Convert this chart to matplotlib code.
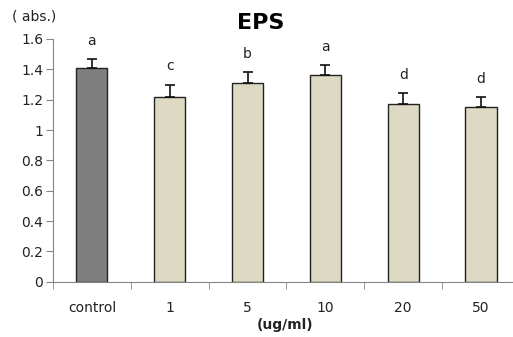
import numpy as np
from matplotlib import pyplot as plt

# EPS absorbance per treatment
doses = ['control', '1', '5', '10', '20', '50']
eps_mean = [1.41, 1.22, 1.31, 1.36, 1.17, 1.15]
eps_err = [0.055, 0.08, 0.07, 0.07, 0.075, 0.07]
groups = ['a', 'c', 'b', 'a', 'd', 'd']
bar_colors = ['#7f7f7f', '#ddd9c3', '#ddd9c3', '#ddd9c3', '#ddd9c3', '#ddd9c3']

yticks = [0, 0.2, 0.4, 0.6, 0.8, 1.0, 1.2, 1.4, 1.6]
ytick_labels = ['0', '0.2', '0.4', '0.6', '0.8', '1', '1.2', '1.4', '1.6']

fig = plt.figure(figsize=(5.13, 3.37), dpi=100)
ax = fig.add_axes([0.1033, 0.164, 0.9103, 0.7203])

x = np.arange(len(doses))
ax.bar(x, eps_mean, width=0.4, color=bar_colors, edgecolor='#222222', linewidth=1.0, zorder=2)
ax.errorbar(x, eps_mean, yerr=[np.zeros(len(x)), eps_err], fmt='none',
            ecolor='#111111', elinewidth=1.2, capsize=3.5, capthick=1.2, zorder=3)

# significance letters above the error bars
for xi, m, e, g in zip(x, eps_mean, eps_err, groups):
    ax.annotate(g, (xi, m + e), xytext=(0, 8), textcoords='offset points',
                ha='center', va='bottom', fontsize=10, color='#222222')

ax.set_xlim(-0.5, 5.5)
ax.set_ylim(0, 1.6)
ax.set_yticks(yticks)
ax.set_yticklabels(ytick_labels)
ax.set_xticks(x)
ax.set_xticklabels(doses)
ax.set_xticks(np.arange(-0.5, 6, 1.0), minor=True)

for side in ['top', 'right']:
    ax.spines[side].set_visible(False)
for side in ['left', 'bottom']:
    ax.spines[side].set_color('#868686')

ax.tick_params(axis='x', which='major', length=0, pad=14, labelsize=10, labelcolor='#222222')
ax.tick_params(axis='x', which='minor', length=5, color='#868686', direction='out')
ax.tick_params(axis='y', length=5, color='#868686', direction='out', labelsize=10,
               labelcolor='#222222', pad=2)

fig.text(0.509, 0.932, 'EPS', ha='center', va='center', fontsize=16, fontweight='bold')
fig.text(0.023, 0.95, '( abs.)', ha='left', va='center', fontsize=10, color='#222222')
fig.text(0.556, 0.036, '(ug/ml)', ha='center', va='center', fontsize=10, fontweight='bold',
         color='#222222')

plt.savefig('out.png', dpi=100)
